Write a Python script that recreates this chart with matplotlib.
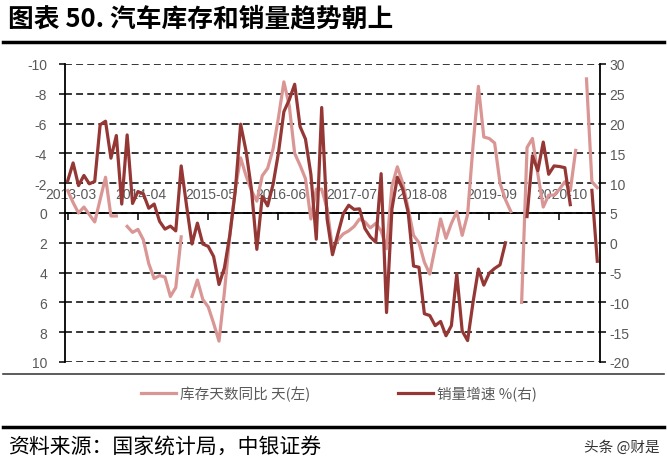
import numpy as np
import pandas as pd
import matplotlib
matplotlib.use('Agg')
import matplotlib.pyplot as plt
from matplotlib.lines import Line2D
from matplotlib import font_manager

# 中文字体
plt.rcParams['font.family'] = ['Noto Sans CJK SC', 'DejaVu Sans']
plt.rcParams['lines.scale_dashes'] = False
plt.rcParams['axes.unicode_minus'] = False

# 月份 2013-03 ~ 2021-05
months = pd.period_range('2013-03', '2021-05', freq='M').strftime('%Y-%m').tolist()
tick_every = 13
nan = np.nan

# 库存天数同比 (天, 左轴, 倒序)
inventory_days = [
    -1.5, -0.7, 0.0, -0.4, 0.1, 0.6, -0.9, -2.4, 0.2, 0.2,
    nan, 0.9, 1.3, 1.1, 1.8, 3.4, 4.4, 4.2, 4.3, 5.6,
    5.0, 1.6, nan, 5.6, 4.5, 5.8, 6.3, 7.4, 8.6, 5.3,
    1.5, -1.6, -3.7, -2.5, -1.5, -0.8, -2.5, -3.0, -4.3, -6.4,
    -8.8, -7.2, -4.0, -3.2, -2.3, 0.4, -1.6, -1.6, -0.3, 2.4,
    1.8, 1.4, 1.2, 0.9, 0.4, 0.6, 1.0, 0.7, 1.2, 2.4,
    -1.8, -3.1, -2.0, -0.3, 1.5, 2.0, 3.3, 4.1, 2.3, 0.4,
    1.7, 0.7, -0.1, 1.5, 0.1, -4.5, -8.5, -5.1, -5.0, -4.7,
    -2.0, -0.9, -0.1, nan, 6.0, -4.4, -5.0, -2.6, -0.4, -1.2,
    -1.2, -1.6, -2.1, -1.5, -4.2, nan, -9.0, -2.1, -1.7,
]

# 销量增速 (%, 右轴)
sales_growth = [
    10.4, 13.4, 9.6, 11.3, 9.9, 10.3, 19.8, 20.4, 14.2, 18.0,
    6.5, 18.1, 6.6, 8.6, 8.2, 5.8, 6.5, 3.6, 2.3, 2.8,
    2.0, 12.9, 6.2, -0.2, 3.3, -0.2, -0.6, -2.3, -7.0, -4.2,
    1.3, 8.6, 19.9, 15.4, 9.0, -1.1, 7.8, 6.2, 9.8, 15.1,
    22.0, 24.0, 26.6, 19.5, 17.4, 11.5, 0.6, 22.7, 4.0, -2.0,
    1.5, 4.9, 6.3, 5.6, 5.7, 2.4, 1.0, 0.1, 11.6, -11.7,
    5.7, 11.0, 9.0, 5.1, -3.9, -4.1, -11.9, -12.2, -13.9, -13.2,
    -15.6, -13.9, -5.2, -14.8, -16.4, -10.0, -4.4, -7.1, -5.1, -4.3,
    -3.7, 0.0, nan, nan, nan, 4.4, 14.6, 12.1, 16.9, 11.5,
    12.9, 12.8, 12.6, 6.4, nan, nan, nan, 8.8, -3.1,
]

installed = {f.name for f in font_manager.fontManager.ttflist}
num_font = 'Liberation Sans' if 'Liberation Sans' in installed else 'DejaVu Sans'
narrow_font = 'Liberation Sans Narrow' if 'Liberation Sans Narrow' in installed else num_font

pink = '#D99694'
dark = '#953735'
grey = '#595959'

fig = plt.figure(figsize=(6.67, 4.64), dpi=100)
ax = fig.add_axes([65 / 667, 1 - 363 / 464, 535 / 667, 298 / 464])
ax2 = ax.twinx()

x = np.arange(len(months))
l1, = ax.plot(x, inventory_days, color=pink, lw=2.3, label='库存天数同比 天(左)', zorder=3)
l2, = ax2.plot(x, sales_growth, color=dark, lw=2.3, label='销量增速 %(右)', zorder=3)

ax.set_xlim(-0.5, len(months) - 0.5)
ax.set_ylim(10, -10)
ax2.set_ylim(-20, 30)
ax.set_yticks(np.arange(-10, 11, 2))
ax2.set_yticks(np.arange(-20, 31, 5))

# 虚线网格
ax.yaxis.grid(True, color='black', lw=1.1, linestyle=(0, (5, 3)), zorder=1)
ax.set_axisbelow(True)

# 坐标轴
for s in ['top', 'right']:
    ax.spines[s].set_visible(False)
for s in ['top', 'bottom', 'left']:
    ax2.spines[s].set_visible(False)
ax.spines['bottom'].set_position(('data', 0))
ax.spines['bottom'].set_linewidth(1.3)
ax.spines['left'].set_linewidth(1.3)
ax2.spines['right'].set_linewidth(1.3)

ax.set_xticks(x[::tick_every])
ax.tick_params(axis='x', direction='out', length=5, width=1.1, labelbottom=False)
ax.tick_params(axis='y', direction='out', length=4, width=1.1, pad=9,
               labelsize=10, labelcolor=grey)
ax2.tick_params(axis='y', direction='out', length=4, width=1.1, pad=3,
                labelsize=10, labelcolor=grey)
for lab in ax.get_yticklabels() + ax2.get_yticklabels():
    lab.set_fontfamily(num_font)

# x轴标签放在零线上方
for i in x[::tick_every]:
    ax.annotate(months[i], (i, 0), xytext=(2, 11), textcoords='offset points',
                ha='center', va='baseline', fontsize=10, color=grey,
                family=narrow_font, zorder=2)

# 标题
fig.text(8 / 667, 1 - 19 / 464, '图表 50. 汽车库存和销量趋势朝上',
         fontsize=18.5, fontweight='bold', va='center', ha='left')
fig.add_artist(Line2D([0.005, 0.995], [1 - 43 / 464] * 2, color='black', lw=2.5))

# 图例
fig.add_artist(Line2D([0.005, 0.995], [1 - 375 / 464] * 2, color='#404040', lw=1.2))
fig.legend(handles=[l1, l2], loc='center', bbox_to_anchor=(0.508, 1 - 394 / 464),
           ncol=2, frameon=False, handlelength=2.4, handletextpad=0.3,
           columnspacing=6.0, prop={'size': 10.5}, labelcolor=grey)

# 资料来源
fig.add_artist(Line2D([0.005, 0.995], [1 - 428 / 464] * 2, color='black', lw=2.5))
fig.text(8 / 667, 1 - 448 / 464, '资料来源：国家统计局，中银证券',
         fontsize=15, va='center', ha='left')
fig.text(660 / 667, 1 - 448 / 464, '头条 @财是', fontsize=10.5,
         va='center', ha='right', color='#333333')

fig.savefig('out.png', dpi=100)
